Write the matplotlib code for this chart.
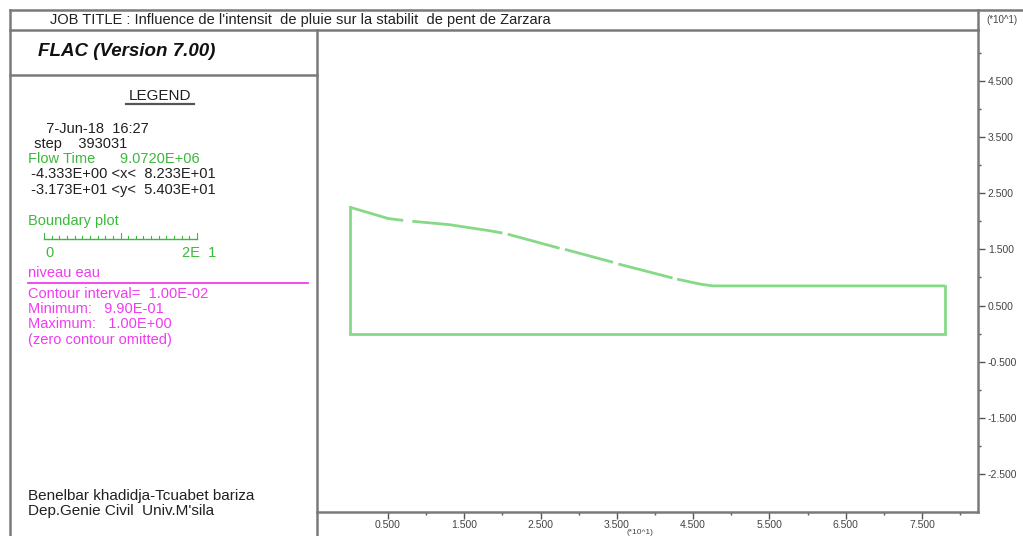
import numpy as np
import matplotlib
matplotlib.use("Agg")
import matplotlib.pyplot as plt
from matplotlib.lines import Line2D
from matplotlib.ticker import FixedLocator, FuncFormatter

plt.rcParams['font.family'] = ['Liberation Sans', 'DejaVu Sans']

# --- model geometry (metres) -------------------------------------------
# slope crest, pieces separated by NaN where the boundary plot is broken
crest_x = [0.0, 5.0, 7.0, np.nan, 8.2, 13.0, 18.4, 20.0, np.nan, 20.7, 27.5,
           np.nan, 28.2, 34.5, np.nan, 35.2, 42.3, np.nan, 42.9, 46.0, 47.6, 78.0]
crest_y = [22.5, 20.5, 20.15, np.nan, 20.0, 19.4, 18.3, 17.9, np.nan, 17.7, 15.2,
           np.nan, 15.0, 12.7, np.nan, 12.4, 9.9, np.nan, 9.7, 8.8, 8.5, 8.5]
# remaining boundary: right side, base, left side
base_x = [78.0, 78.0, 0.0, 0.0]
base_y = [8.5, 0.0, 0.0, 22.5]

x_range = (-4.333, 82.33)
y_range = (-31.73, 54.03)
x_major = [5, 15, 25, 35, 45, 55, 65, 75]
x_minor = [10, 20, 30, 40, 50, 60, 70, 80]
y_major = [45, 35, 25, 15, 5, -5, -15, -25]
y_minor = [50, 40, 30, 20, 10, 0, -10, -20]

job_title = "JOB TITLE : Influence de l'intensit  de pluie sur la stabilit  de pent de Zarzara"
legend_black = ["  7-Jun-18  16:27", " step    393031"]
flow_time = "Flow Time      9.0720E+06"
limits = [" -4.333E+00 <x<  8.233E+01", " -3.173E+01 <y<  5.403E+01"]
contour_lines = ["Contour interval=  1.00E-02", "Minimum:   9.90E-01",
                 "Maximum:   1.00E+00", "(zero contour omitted)"]
authors = ["Benelbar khadidja-Tcuabet bariza", "Dep.Genie Civil  Univ.M'sila"]

W, H = 1023, 536
GREEN_LINE = '#86d986'
GREEN_TXT = '#3cb83c'
MAGENTA = '#f03cf0'
FRAME = '#7a7a7a'
TXT = '#202020'


def fx(x):
    return x / W


def fy(y):
    return 1 - y / H


fig = plt.figure(figsize=(W / 100, H / 100), dpi=100)
fig.patch.set_facecolor('white')

# plot area
ax_l, ax_r, ax_t, ax_b = 316.7, 978.0, 30.0, 512.0
ax = fig.add_axes([fx(ax_l), fy(ax_b), fx(ax_r - ax_l), (ax_b - ax_t) / H])
ax.set_xlim(*x_range)
ax.set_ylim(*y_range)
for s in ['left', 'top']:
    ax.spines[s].set_visible(False)
for s in ['right', 'bottom']:
    ax.spines[s].set_color(FRAME)
    ax.spines[s].set_linewidth(1.8)

ax.plot(crest_x, crest_y, color=GREEN_LINE, lw=2.0, solid_capstyle='butt')
ax.plot(base_x, base_y, color=GREEN_LINE, lw=2.0, solid_joinstyle='miter')

ax.yaxis.tick_right()
ax.xaxis.set_major_locator(FixedLocator(x_major))
ax.xaxis.set_minor_locator(FixedLocator(x_minor))
ax.yaxis.set_major_locator(FixedLocator(y_major))
ax.yaxis.set_minor_locator(FixedLocator(y_minor))
fmt = FuncFormatter(lambda v, p: f"{v / 10:.3f}")
ax.xaxis.set_major_formatter(fmt)
ax.yaxis.set_major_formatter(fmt)
ax.tick_params(which='major', length=5, width=1.0, color='#555555',
               labelsize=7.5, labelcolor='#444444', direction='out')
ax.tick_params(which='minor', length=2.5, width=1.0, color='#555555', direction='out')
ax.tick_params(axis='x', pad=0.5)
ax.tick_params(axis='y', pad=2)

fig.text(fx(640), fy(532), "(*10^1)", fontsize=6, color='#444444',
         ha='center', va='center')
fig.text(fx(1002), fy(20), "(*10^1)", fontsize=7, color='#444444',
         ha='center', va='center')

# frame lines around title block and legend panel
frame_lines = [
    ((10, 1023), (10, 10)),      # top border
    ((10, ax_r), (30, 30)),      # under title row
    ((10, 10), (10, 536)),       # left border
    ((10, ax_l), (75, 75)),      # under FLAC version
    ((ax_l, ax_l), (30, 536)),   # panel divider / plot left edge
    ((ax_r, ax_r), (10, 30)),    # right axis extension into title row
]
for (xs, ys) in frame_lines:
    fig.add_artist(Line2D([fx(v) for v in xs], [fy(v) for v in ys],
                          transform=fig.transFigure, color=FRAME, lw=1.8))

fig.text(fx(50), fy(20), job_title, fontsize=10.5, color=TXT, va='center')
fig.text(fx(38), fy(52), "FLAC (Version 7.00)", fontsize=13.5, color='#111111',
         fontweight='bold', fontstyle='italic', va='center')
fig.text(fx(160), fy(96), "LEGEND", fontsize=11, color=TXT, ha='center', va='center')
fig.add_artist(Line2D([fx(126), fx(194)], [fy(104), fy(104)],
                      transform=fig.transFigure, color='#555555', lw=1.6))

lh = 15.5
fs = 10.5
fig.text(fx(38), fy(129), legend_black[0], fontsize=fs, color=TXT, va='center')
fig.text(fx(30), fy(144), legend_black[1], fontsize=fs, color=TXT, va='center')
fig.text(fx(28), fy(159), flow_time, fontsize=fs, color=GREEN_TXT, va='center')
fig.text(fx(27), fy(174.5), limits[0], fontsize=fs, color=TXT, va='center')
fig.text(fx(27), fy(190), limits[1], fontsize=fs, color=TXT, va='center')

fig.text(fx(28), fy(221), "Boundary plot", fontsize=fs, color=GREEN_TXT, va='center')
# scale bar 0 .. 2E 1
bar_x0, bar_x1, bar_y = 44, 197, 239
fig.add_artist(Line2D([fx(bar_x0), fx(bar_x1)], [fy(bar_y), fy(bar_y)],
                      transform=fig.transFigure, color=GREEN_TXT, lw=1.0))
for i in range(21):
    xt = bar_x0 + (bar_x1 - bar_x0) * i / 20
    ht = 6 if i in (0, 10, 20) else 3.5
    fig.add_artist(Line2D([fx(xt), fx(xt)], [fy(bar_y), fy(bar_y - ht)],
                          transform=fig.transFigure, color=GREEN_TXT, lw=0.8))
fig.text(fx(45), fy(253), "0", fontsize=fs, color=GREEN_TXT, va='center')
fig.text(fx(182), fy(253), "2E  1", fontsize=fs, color=GREEN_TXT, va='center')

fig.text(fx(28), fy(273), "niveau eau", fontsize=fs, color=MAGENTA, va='center')
fig.add_artist(Line2D([fx(28), fx(308)], [fy(283), fy(283)],
                      transform=fig.transFigure, color=MAGENTA, lw=1.3))
for i, s in enumerate(contour_lines):
    fig.text(fx(28), fy(293.5 + i * lh), s, fontsize=fs, color=MAGENTA, va='center')

fig.text(fx(28), fy(496), authors[0], fontsize=fs + 0.5, color=TXT, va='center')
fig.text(fx(28), fy(511), authors[1], fontsize=fs + 0.5, color=TXT, va='center')

fig.savefig("out.png", dpi=100, facecolor='white')
